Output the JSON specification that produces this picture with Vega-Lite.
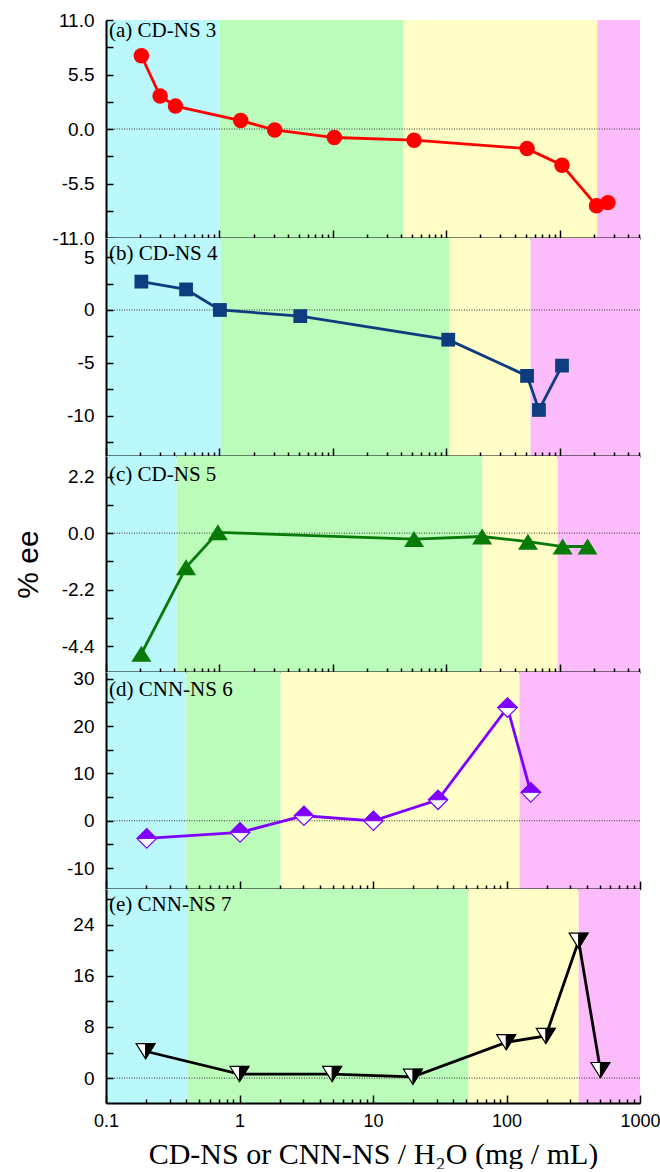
{
  "$schema": "https://vega.github.io/schema/vega-lite/v6.json",
  "background": "white",
  "padding": {"left": 13, "top": 11, "right": 0, "bottom": 0},
  "spacing": 0,
  "bounds": "flush",
  "config": {
    "view": {"stroke": null},
    "axis": {"tickColor": "black", "tickWidth": 1.5, "domainColor": "black", "domainWidth": 2, "grid": false, "labelFont": "Liberation Sans", "labelFontSize": 19, "labelColor": "black", "labelOverlap": false, "labelFlush": false, "labelBound": false, "titleFontWeight": "normal", "titleColor": "black"}
  },
  "vconcat": [
    {
      "width": 534, "height": 218,
      "layer": [
        {
          "data": {"values": [{"x0": 0.1, "x1": 1.0, "zone": "I"}, {"x0": 1.0, "x1": 41.9, "zone": "II"}, {"x0": 41.9, "x1": 2140, "zone": "III"}, {"x0": 2140, "x1": 5100, "zone": "IV"}]},
          "mark": {"type": "rect"},
          "encoding": {
            "x": {"field": "x0", "type": "quantitative", "scale": {"type": "log", "domain": [0.1, 5100], "nice": false},
              "axis": {"orient": "bottom", "zindex": 2, "values": [0.1,0.2,0.3,0.4,0.5,0.6,0.7,0.8,0.9,1,2,3,4,5,6,7,8,9,10,20,30,40,50,60,70,80,90,100,200,300,400,500,600,700,800,900,1000,2000,3000,4000,5000], "tickSize": {"condition": {"test": "abs(log(datum.value)/LN10 - round(log(datum.value)/LN10)) < 0.001", "value": -8}, "value": -4}, "labels": false, "title": null}},
            "x2": {"field": "x1"},
            "color": {"field": "zone", "type": "nominal", "scale": {"domain": ["I", "II", "III", "IV"], "range": ["#bbf8fc", "#bbfcbb", "#fefec6", "#fcbcfc"]}, "legend": null}
          }
        },
        {
          "data": {"values": [{"z": 0}]},
          "mark": {"type": "rule", "color": "#333333", "strokeWidth": 1, "strokeDash": [1, 1.5]},
          "encoding": {
            "y": {"datum": 0, "type": "quantitative", "scale": {"domain": [-11, 11], "nice": false, "zero": false},
              "axis": {"orient": "left", "zindex": 2, "values": [-11,-8.25,-5.5,-2.75,0,2.75,5.5,8.25,11], "format": ".1f", "labelExpr": "indexof([-11,-5.5,0,5.5,11], datum.value) >= 0 ? replace(datum.label, '\u2212', '-') : ''", "tickSize": -7, "labelPadding": 19, "title": null}}
          }
        },
        {
          "data": {"values": [{"x": 0.205, "y": 7.39}, {"x": 0.30, "y": 3.33}, {"x": 0.41, "y": 2.31}, {"x": 1.54, "y": 0.85}, {"x": 3.07, "y": -0.1}, {"x": 10.3, "y": -0.86}, {"x": 52, "y": -1.13}, {"x": 515, "y": -1.98}, {"x": 1047, "y": -3.65}, {"x": 2110, "y": -7.74}, {"x": 2660, "y": -7.43}]},
          "layer": [
            {
              "mark": {"type": "line", "color": "#ff0000", "strokeWidth": 2.8},
              "encoding": {
                "x": {"field": "x", "type": "quantitative", "scale": {"type": "log", "domain": [0.1, 5100], "nice": false},
                  "axis": {"orient": "top", "zindex": 2, "values": [0.1,0.2,0.3,0.4,0.5,0.6,0.7,0.8,0.9,1,2,3,4,5,6,7,8,9,10,20,30,40,50,60,70,80,90,100,200,300,400,500,600,700,800,900,1000,2000,3000,4000,5000], "tickSize": {"condition": {"test": "abs(log(datum.value)/LN10 - round(log(datum.value)/LN10)) < 0.001", "value": -8}, "value": -4}, "labels": false, "title": null}},
                "y": {"field": "y", "type": "quantitative", "scale": {"domain": [-11, 11], "nice": false, "zero": false},
                  "axis": {"orient": "right", "zindex": 2, "values": [-11,-8.25,-5.5,-2.75,0,2.75,5.5,8.25,11], "tickSize": -7, "labels": false, "title": null}}
              }
            },
            {
              "mark": {"type": "point", "shape": "circle", "filled": true, "color": "#ff0000", "size": 240, "opacity": 1},
              "encoding": {
                "x": {"field": "x", "type": "quantitative", "axis": null},
                "y": {"field": "y", "type": "quantitative", "axis": null}
              }
            }
          ]
        },
        {
          "data": {"values": [{"z": 0}]},
          "mark": {"type": "text", "text": "(a) CD-NS 3", "font": "Liberation Serif", "fontSize": 21, "align": "left", "baseline": "top", "dx": 3, "dy": 0, "color": "black"},
          "encoding": {
            "x": {"datum": 0.1, "type": "quantitative", "axis": null},
            "y": {"datum": 11, "type": "quantitative", "axis": null}
          }
        }
      ],
      "resolve": {"axis": {"x": "independent", "y": "independent"}}
    },
    {
      "width": 534, "height": 218,
      "layer": [
        {
          "data": {"values": [{"x0": 0.1, "x1": 1.03, "zone": "I"}, {"x0": 1.03, "x1": 105.7, "zone": "II"}, {"x0": 105.7, "x1": 552, "zone": "III"}, {"x0": 552, "x1": 5100, "zone": "IV"}]},
          "mark": {"type": "rect"},
          "encoding": {
            "x": {"field": "x0", "type": "quantitative", "scale": {"type": "log", "domain": [0.1, 5100], "nice": false},
              "axis": {"orient": "bottom", "zindex": 2, "values": [0.1,0.2,0.3,0.4,0.5,0.6,0.7,0.8,0.9,1,2,3,4,5,6,7,8,9,10,20,30,40,50,60,70,80,90,100,200,300,400,500,600,700,800,900,1000,2000,3000,4000,5000], "tickSize": {"condition": {"test": "abs(log(datum.value)/LN10 - round(log(datum.value)/LN10)) < 0.001", "value": -8}, "value": -4}, "labels": false, "title": null}},
            "x2": {"field": "x1"},
            "color": {"field": "zone", "type": "nominal", "scale": {"domain": ["I", "II", "III", "IV"], "range": ["#bbf8fc", "#bbfcbb", "#fefec6", "#fcbcfc"]}, "legend": null}
          }
        },
        {
          "data": {"values": [{"z": 0}]},
          "mark": {"type": "rule", "color": "#333333", "strokeWidth": 1, "strokeDash": [1, 1.5]},
          "encoding": {
            "y": {"datum": 0, "type": "quantitative", "scale": {"domain": [-13.8, 6.8], "nice": false, "zero": false},
              "axis": {"orient": "left", "zindex": 2, "values": [-12.5,-10,-7.5,-5,-2.5,0,2.5,5], "format": "d", "labelExpr": "indexof([-10,-5,0,5], datum.value) >= 0 ? replace(datum.label, '\u2212', '-') : ''", "tickSize": -7, "labelPadding": 19, "title": null}}
          }
        },
        {
          "data": {"values": [{"x": 0.205, "y": 2.68}, {"x": 0.508, "y": 1.94}, {"x": 1.01, "y": 0}, {"x": 5.16, "y": -0.58}, {"x": 104, "y": -2.81}, {"x": 515, "y": -6.23}, {"x": 656, "y": -9.45}, {"x": 1047, "y": -5.26}]},
          "layer": [
            {
              "mark": {"type": "line", "color": "#0d3d7e", "strokeWidth": 2.8},
              "encoding": {
                "x": {"field": "x", "type": "quantitative", "scale": {"type": "log", "domain": [0.1, 5100], "nice": false},
                  "axis": {"orient": "top", "zindex": 2, "values": [0.1,0.2,0.3,0.4,0.5,0.6,0.7,0.8,0.9,1,2,3,4,5,6,7,8,9,10,20,30,40,50,60,70,80,90,100,200,300,400,500,600,700,800,900,1000,2000,3000,4000,5000], "tickSize": {"condition": {"test": "abs(log(datum.value)/LN10 - round(log(datum.value)/LN10)) < 0.001", "value": -8}, "value": -4}, "labels": false, "title": null}},
                "y": {"field": "y", "type": "quantitative", "scale": {"domain": [-13.8, 6.8], "nice": false, "zero": false},
                  "axis": {"orient": "right", "zindex": 2, "values": [-12.5,-10,-7.5,-5,-2.5,0,2.5,5], "tickSize": -7, "labels": false, "title": null}}
              }
            },
            {
              "mark": {"type": "point", "shape": "square", "filled": true, "color": "#0d3d7e", "size": 190, "opacity": 1},
              "encoding": {
                "x": {"field": "x", "type": "quantitative", "axis": null},
                "y": {"field": "y", "type": "quantitative", "axis": null}
              }
            }
          ]
        },
        {
          "data": {"values": [{"z": 0}]},
          "mark": {"type": "text", "text": "(b) CD-NS 4", "font": "Liberation Serif", "fontSize": 21, "align": "left", "baseline": "top", "dx": 3, "dy": 5, "color": "black"},
          "encoding": {
            "x": {"datum": 0.1, "type": "quantitative", "axis": null},
            "y": {"datum": 6.8, "type": "quantitative", "axis": null}
          }
        }
      ],
      "resolve": {"axis": {"x": "independent", "y": "independent"}}
    },
    {
      "width": 534, "height": 216,
      "layer": [
        {
          "data": {"values": [{"x0": 0.1, "x1": 0.42, "zone": "I"}, {"x0": 0.42, "x1": 207, "zone": "II"}, {"x0": 207, "x1": 960, "zone": "III"}, {"x0": 960, "x1": 5100, "zone": "IV"}]},
          "mark": {"type": "rect"},
          "encoding": {
            "x": {"field": "x0", "type": "quantitative", "scale": {"type": "log", "domain": [0.1, 5100], "nice": false},
              "axis": {"orient": "bottom", "zindex": 2, "values": [0.1,0.2,0.3,0.4,0.5,0.6,0.7,0.8,0.9,1,2,3,4,5,6,7,8,9,10,20,30,40,50,60,70,80,90,100,200,300,400,500,600,700,800,900,1000,2000,3000,4000,5000], "tickSize": {"condition": {"test": "abs(log(datum.value)/LN10 - round(log(datum.value)/LN10)) < 0.001", "value": -8}, "value": -4}, "labels": false, "title": null}},
            "x2": {"field": "x1"},
            "color": {"field": "zone", "type": "nominal", "scale": {"domain": ["I", "II", "III", "IV"], "range": ["#bbf8fc", "#bbfcbb", "#fefec6", "#fcbcfc"]}, "legend": null}
          }
        },
        {
          "data": {"values": [{"z": 0}]},
          "mark": {"type": "rule", "color": "#333333", "strokeWidth": 1, "strokeDash": [1, 1.5]},
          "encoding": {
            "y": {"datum": 0, "type": "quantitative", "scale": {"domain": [-5.4, 3.0], "nice": false, "zero": false},
              "axis": {"orient": "left", "zindex": 2, "values": [-4.4,-3.3,-2.2,-1.1,0,1.1,2.2], "format": ".1f", "labelExpr": "indexof([-4.4,-2.2,0,2.2], datum.value) >= 0 ? replace(datum.label, '\u2212', '-') : ''", "tickSize": -7, "labelPadding": 19, "title": "% ee", "titleFont": "Liberation Sans", "titleFontSize": 30, "titlePadding": 18}}
          }
        },
        {
          "data": {"values": [{"x": 0.205, "y": -4.69}, {"x": 0.508, "y": -1.33}, {"x": 0.97, "y": 0.03}, {"x": 52, "y": -0.23}, {"x": 207, "y": -0.13}, {"x": 525, "y": -0.33}, {"x": 1060, "y": -0.52}, {"x": 1760, "y": -0.52}]},
          "layer": [
            {
              "mark": {"type": "line", "color": "#087a08", "strokeWidth": 2.8},
              "encoding": {
                "x": {"field": "x", "type": "quantitative", "scale": {"type": "log", "domain": [0.1, 5100], "nice": false},
                  "axis": {"orient": "top", "zindex": 2, "values": [0.1,0.2,0.3,0.4,0.5,0.6,0.7,0.8,0.9,1,2,3,4,5,6,7,8,9,10,20,30,40,50,60,70,80,90,100,200,300,400,500,600,700,800,900,1000,2000,3000,4000,5000], "tickSize": {"condition": {"test": "abs(log(datum.value)/LN10 - round(log(datum.value)/LN10)) < 0.001", "value": -8}, "value": -4}, "labels": false, "title": null}},
                "y": {"field": "y", "type": "quantitative", "scale": {"domain": [-5.4, 3.0], "nice": false, "zero": false},
                  "axis": {"orient": "right", "zindex": 2, "values": [-4.4,-3.3,-2.2,-1.1,0,1.1,2.2], "tickSize": -7, "labels": false, "title": null}}
              }
            },
            {
              "mark": {"type": "point", "shape": "M0,-0.8L1,0.8L-1,0.8Z", "filled": true, "color": "#087a08", "size": 400, "opacity": 1},
              "encoding": {
                "x": {"field": "x", "type": "quantitative", "axis": null},
                "y": {"field": "y", "type": "quantitative", "axis": null}
              }
            }
          ]
        },
        {
          "data": {"values": [{"z": 0}]},
          "mark": {"type": "text", "text": "(c) CD-NS 5", "font": "Liberation Serif", "fontSize": 21, "align": "left", "baseline": "top", "dx": 3, "dy": 8, "color": "black"},
          "encoding": {
            "x": {"datum": 0.1, "type": "quantitative", "axis": null},
            "y": {"datum": 3.0, "type": "quantitative", "axis": null}
          }
        }
      ],
      "resolve": {"axis": {"x": "independent", "y": "independent"}}
    },
    {
      "width": 534, "height": 217,
      "layer": [
        {
          "data": {"values": [{"x0": 0.1, "x1": 0.40, "zone": "I"}, {"x0": 0.40, "x1": 2.03, "zone": "II"}, {"x0": 2.03, "x1": 125, "zone": "III"}, {"x0": 125, "x1": 1000, "zone": "IV"}]},
          "mark": {"type": "rect"},
          "encoding": {
            "x": {"field": "x0", "type": "quantitative", "scale": {"type": "log", "domain": [0.1, 1000], "nice": false},
              "axis": {"orient": "bottom", "zindex": 2, "values": [0.1,0.2,0.3,0.4,0.5,0.6,0.7,0.8,0.9,1,2,3,4,5,6,7,8,9,10,20,30,40,50,60,70,80,90,100,200,300,400,500,600,700,800,900,1000], "tickSize": {"condition": {"test": "abs(log(datum.value)/LN10 - round(log(datum.value)/LN10)) < 0.001", "value": -8}, "value": -4}, "labels": false, "title": null}},
            "x2": {"field": "x1"},
            "color": {"field": "zone", "type": "nominal", "scale": {"domain": ["I", "II", "III", "IV"], "range": ["#bbf8fc", "#bbfcbb", "#fefec6", "#fcbcfc"]}, "legend": null}
          }
        },
        {
          "data": {"values": [{"z": 0}]},
          "mark": {"type": "rule", "color": "#333333", "strokeWidth": 1, "strokeDash": [1, 1.5]},
          "encoding": {
            "y": {"datum": 0, "type": "quantitative", "scale": {"domain": [-14.4, 31.4], "nice": false, "zero": false},
              "axis": {"orient": "left", "zindex": 2, "values": [-10,-5,0,5,10,15,20,25,30], "format": "d", "labelExpr": "indexof([-10,0,10,20,30], datum.value) >= 0 ? replace(datum.label, '\u2212', '-') : ''", "tickSize": -7, "labelPadding": 19, "title": null}}
          }
        },
        {
          "data": {"values": [{"x": 0.202, "y": -3.72}, {"x": 1.01, "y": -2.45}, {"x": 3.04, "y": 1.06}, {"x": 10.07, "y": 0.0}, {"x": 30.7, "y": 4.43}, {"x": 101.7, "y": 23.9}, {"x": 152, "y": 6.0}]},
          "layer": [
            {
              "mark": {"type": "line", "color": "#7f00ff", "strokeWidth": 2.8},
              "encoding": {
                "x": {"field": "x", "type": "quantitative", "scale": {"type": "log", "domain": [0.1, 1000], "nice": false},
                  "axis": {"orient": "top", "zindex": 2, "values": [0.1,0.2,0.3,0.4,0.5,0.6,0.7,0.8,0.9,1,2,3,4,5,6,7,8,9,10,20,30,40,50,60,70,80,90,100,200,300,400,500,600,700,800,900,1000], "tickSize": {"condition": {"test": "abs(log(datum.value)/LN10 - round(log(datum.value)/LN10)) < 0.001", "value": -8}, "value": -4}, "labels": false, "title": null}},
                "y": {"field": "y", "type": "quantitative", "scale": {"domain": [-14.4, 31.4], "nice": false, "zero": false},
                  "axis": {"orient": "right", "zindex": 2, "values": [-10,-5,0,5,10,15,20,25,30], "tickSize": -7, "labels": false, "title": null}}
              }
            },
            {
              "mark": {"type": "point", "shape": "diamond", "filled": true, "fill": "white", "stroke": "#7f00ff", "strokeWidth": 1.2, "size": 380, "opacity": 1},
              "encoding": {
                "x": {"field": "x", "type": "quantitative", "axis": null},
                "y": {"field": "y", "type": "quantitative", "axis": null}
              }
            },
            {
              "mark": {"type": "point", "shape": "M-1,0L0,-1L1,0Z", "filled": true, "fill": "#7f00ff", "stroke": "#7f00ff", "strokeWidth": 1, "size": 380, "opacity": 1},
              "encoding": {
                "x": {"field": "x", "type": "quantitative", "axis": null},
                "y": {"field": "y", "type": "quantitative", "axis": null}
              }
            }
          ]
        },
        {
          "data": {"values": [{"z": 0}]},
          "mark": {"type": "text", "text": "(d) CNN-NS 6", "font": "Liberation Serif", "fontSize": 21, "align": "left", "baseline": "top", "dx": 3, "dy": 7, "color": "black"},
          "encoding": {
            "x": {"datum": 0.1, "type": "quantitative", "axis": null},
            "y": {"datum": 31.4, "type": "quantitative", "axis": null}
          }
        }
      ],
      "resolve": {"axis": {"x": "independent", "y": "independent"}}
    },
    {
      "width": 534, "height": 214,
      "layer": [
        {
          "data": {"values": [{"x0": 0.1, "x1": 0.406, "zone": "I"}, {"x0": 0.406, "x1": 51.8, "zone": "II"}, {"x0": 51.8, "x1": 347, "zone": "III"}, {"x0": 347, "x1": 1000, "zone": "IV"}]},
          "mark": {"type": "rect"},
          "encoding": {
            "x": {"field": "x0", "type": "quantitative", "scale": {"type": "log", "domain": [0.1, 1000], "nice": false},
              "axis": {"orient": "bottom", "zindex": 2, "values": [0.1,0.2,0.3,0.4,0.5,0.6,0.7,0.8,0.9,1,2,3,4,5,6,7,8,9,10,20,30,40,50,60,70,80,90,100,200,300,400,500,600,700,800,900,1000], "tickSize": {"condition": {"test": "abs(log(datum.value)/LN10 - round(log(datum.value)/LN10)) < 0.001", "value": -8}, "value": -4}, "labelExpr": "abs(log(datum.value)/LN10 - round(log(datum.value)/LN10)) < 0.001 ? format(datum.value, '~g') : ''", "labelFontSize": 18, "labelPadding": 17, "title": "CD-NS or CNN-NS / H\u2082O (mg / mL)", "titleFont": "Liberation Serif", "titleFontSize": 30, "titlePadding": 5}},
            "x2": {"field": "x1"},
            "color": {"field": "zone", "type": "nominal", "scale": {"domain": ["I", "II", "III", "IV"], "range": ["#bbf8fc", "#bbfcbb", "#fefec6", "#fcbcfc"]}, "legend": null}
          }
        },
        {
          "data": {"values": [{"z": 0}]},
          "mark": {"type": "rule", "color": "#333333", "strokeWidth": 1, "strokeDash": [1, 1.5]},
          "encoding": {
            "y": {"datum": 0, "type": "quantitative", "scale": {"domain": [-3.9, 29.6], "nice": false, "zero": false},
              "axis": {"orient": "left", "zindex": 2, "values": [0,4,8,12,16,20,24,28], "format": "d", "labelExpr": "indexof([0,8,16,24], datum.value) >= 0 ? datum.label : ''", "tickSize": -7, "labelPadding": 19, "title": null}}
          }
        },
        {
          "data": {"values": [{"x": 0.198, "y": 4.2}, {"x": 1.0, "y": 0.63}, {"x": 4.94, "y": 0.63}, {"x": 19.9, "y": 0.2}, {"x": 99.5, "y": 5.6}, {"x": 197, "y": 6.6}, {"x": 347, "y": 21.5}, {"x": 505, "y": 1.25}]},
          "layer": [
            {
              "mark": {"type": "line", "color": "#000000", "strokeWidth": 2.8},
              "encoding": {
                "x": {"field": "x", "type": "quantitative", "scale": {"type": "log", "domain": [0.1, 1000], "nice": false},
                  "axis": {"orient": "top", "zindex": 2, "values": [0.1,0.2,0.3,0.4,0.5,0.6,0.7,0.8,0.9,1,2,3,4,5,6,7,8,9,10,20,30,40,50,60,70,80,90,100,200,300,400,500,600,700,800,900,1000], "tickSize": {"condition": {"test": "abs(log(datum.value)/LN10 - round(log(datum.value)/LN10)) < 0.001", "value": -8}, "value": -4}, "labels": false, "title": null}},
                "y": {"field": "y", "type": "quantitative", "scale": {"domain": [-3.9, 29.6], "nice": false, "zero": false},
                  "axis": {"orient": "right", "zindex": 2, "values": [0,4,8,12,16,20,24,28], "tickSize": -7, "labels": false, "title": null}}
              }
            },
            {
              "mark": {"type": "point", "shape": "M-1,-0.8L1,-0.8L0,0.8Z", "filled": true, "fill": "white", "stroke": "#000000", "strokeWidth": 1.2, "size": 361, "opacity": 1},
              "encoding": {
                "x": {"field": "x", "type": "quantitative", "axis": null},
                "y": {"field": "y", "type": "quantitative", "axis": null}
              }
            },
            {
              "mark": {"type": "point", "shape": "M0,-0.8L1,-0.8L0,0.8Z", "filled": true, "fill": "#000000", "stroke": "#000000", "strokeWidth": 1, "size": 361, "opacity": 1},
              "encoding": {
                "x": {"field": "x", "type": "quantitative", "axis": null},
                "y": {"field": "y", "type": "quantitative", "axis": null}
              }
            }
          ]
        },
        {
          "data": {"values": [{"z": 0}]},
          "mark": {"type": "text", "text": "(e) CNN-NS 7", "font": "Liberation Serif", "fontSize": 21, "align": "left", "baseline": "top", "dx": 3, "dy": 5, "color": "black"},
          "encoding": {
            "x": {"datum": 0.1, "type": "quantitative", "axis": null},
            "y": {"datum": 29.6, "type": "quantitative", "axis": null}
          }
        }
      ],
      "resolve": {"axis": {"x": "independent", "y": "independent"}}
    }
  ]
}
